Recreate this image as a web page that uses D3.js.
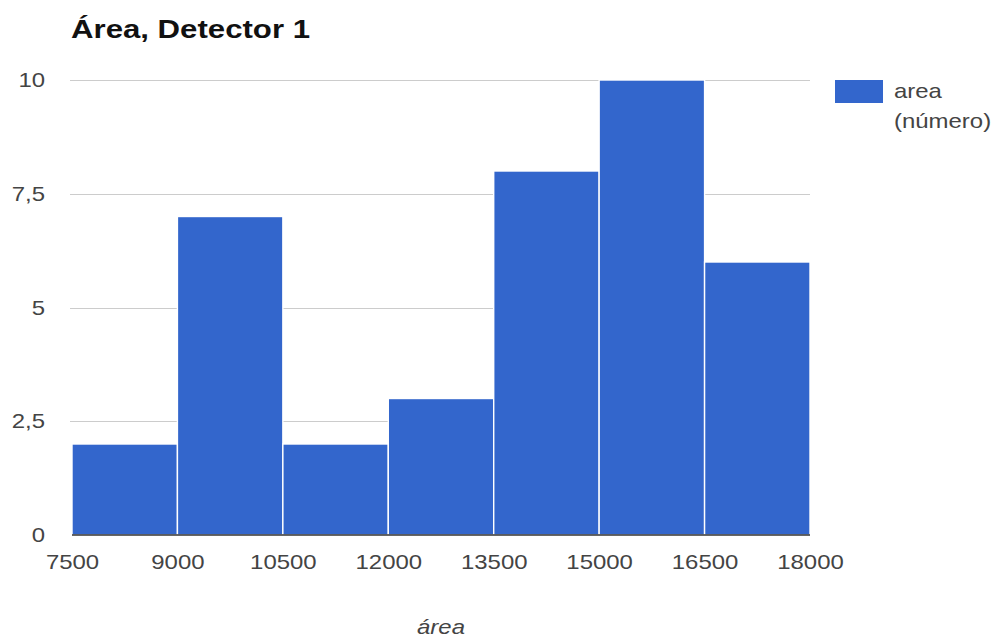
<!DOCTYPE html>
<html>
<head>
<meta charset="utf-8">
<script src="https://cdn.jsdelivr.net/npm/d3@7/dist/d3.min.js"></script>
<style>
  html, body { margin: 0; padding: 0; background: #fff; }
  svg { display: block; font-family: Arial, "Liberation Sans", sans-serif; }
</style>
</head>
<body>
<svg id="chart" width="1004" height="640"></svg>
<script>
// Histogram bins (lower / upper edge) and their counts
const binStarts = [7500, 9000, 10500, 12000, 13500, 15000, 16500];
const binEnds   = [9000, 10500, 12000, 13500, 15000, 16500, 18000];
const counts    = [2, 7, 2, 3, 8, 10, 6];

const xTicks = [7500, 9000, 10500, 12000, 13500, 15000, 16500, 18000];
const yTicks = [0, 2.5, 5, 7.5, 10];

const titleText = "Área, Detector 1";
const xTitle = "área";
const legendLines = ["area", "(número)"];

const svg = d3.select("#chart");
const plot = { left: 72, right: 810, top: 80, bottom: 535 };

const x = d3.scaleLinear().domain([7500, 18000]).range([plot.left, plot.right]);
const y = d3.scaleLinear().domain([0, 10]).range([plot.bottom, plot.top]);

const fmtY = d => String(d).replace(".", ",");

// Title
svg.append("text")
  .attr("x", 71).attr("y", 38)
  .attr("font-size", 25).attr("font-weight", "bold")
  .attr("fill", "#111")
  .attr("textLength", 239).attr("lengthAdjust", "spacingAndGlyphs")
  .text(titleText);

// Horizontal gridlines
svg.append("g").selectAll("line")
  .data(yTicks.filter(d => d !== 0))
  .join("line")
  .attr("x1", plot.left - 2).attr("x2", plot.right)
  .attr("y1", d => Math.round(y(d)) + 0.5).attr("y2", d => Math.round(y(d)) + 0.5)
  .attr("stroke", "#cccccc").attr("stroke-width", 1.2);

// Y axis labels
const yAxis = d3.axisLeft(y).tickValues(yTicks).tickFormat(fmtY).tickSize(0).tickPadding(0);
const gy = svg.append("g").attr("class", "lbl").attr("transform", `translate(${plot.left - 27},0)`).call(yAxis);
gy.select(".domain").remove();
gy.selectAll("text").attr("font-size", 21).attr("fill", "#444").attr("font-family", null);

// Bars
svg.append("g").selectAll("rect")
  .data(counts.map((c, i) => ({ a: binStarts[i], b: binEnds[i], c })))
  .join("rect")
  .attr("x", d => x(d.a))
  .attr("width", d => x(d.b) - x(d.a))
  .attr("y", d => y(d.c))
  .attr("height", d => y(0) - y(d.c))
  .attr("fill", "#3366cc")
  .attr("stroke", "#ffffff").attr("stroke-width", 1.4);

// Baseline
svg.append("line")
  .attr("x1", plot.left).attr("x2", plot.right)
  .attr("y1", y(0)).attr("y2", y(0))
  .attr("stroke", "#333").attr("stroke-width", 1.3);

// X axis labels
const xAxis = d3.axisBottom(x).tickValues(xTicks).tickFormat(d => String(d)).tickSize(0).tickPadding(0);
const gx = svg.append("g").attr("class", "lbl").attr("transform", `translate(0,${plot.bottom + 19})`).call(xAxis);
gx.select(".domain").remove();
gx.selectAll("text").attr("font-size", 21).attr("fill", "#444").attr("font-family", null);

// X axis title
svg.append("text")
  .attr("class", "lbl")
  .attr("x", (plot.left + plot.right) / 2).attr("y", 634)
  .attr("text-anchor", "middle")
  .attr("font-size", 21).attr("font-style", "italic")
  .attr("fill", "#444")
  .text(xTitle);

// Legend
const lg = svg.append("g").attr("class", "lbl");
lg.append("rect")
  .attr("x", 835).attr("y", 80).attr("width", 48).attr("height", 23)
  .attr("fill", "#3366cc");
lg.selectAll("text")
  .data(legendLines)
  .join("text")
  .attr("x", 894).attr("y", (d, i) => 98 + i * 30)
  .attr("font-size", 21).attr("fill", "#444")
  .text(d => d);

// Widen the label glyphs slightly
svg.selectAll(".lbl text, text.lbl").each(function () {
  const len = this.getComputedTextLength();
  d3.select(this).attr("textLength", len * 1.14).attr("lengthAdjust", "spacingAndGlyphs");
});
</script>
</body>
</html>
